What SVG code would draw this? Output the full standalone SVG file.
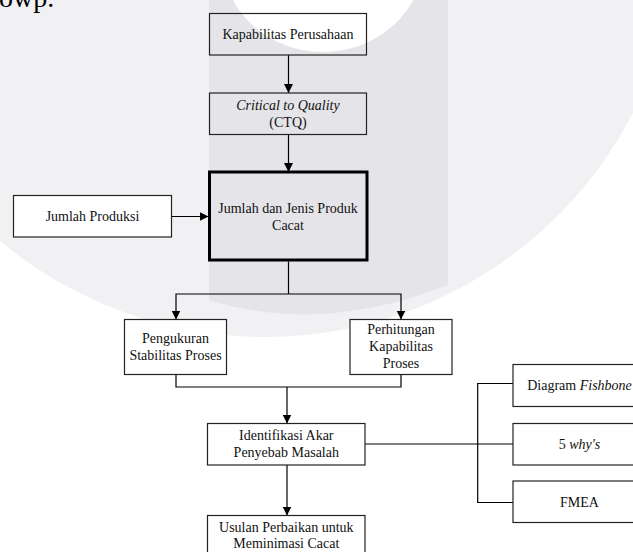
<svg xmlns="http://www.w3.org/2000/svg" width="633" height="552" viewBox="0 0 633 552">
  <defs>
    <marker id="arr" viewBox="0 0 10 10" refX="10" refY="5" markerWidth="9" markerHeight="11.5" markerUnits="userSpaceOnUse" orient="auto">
      <path d="M0,0 L10,5 L0,10 Z" fill="#000"/>
    </marker>
    <clipPath id="bigc"><circle cx="265" cy="-77" r="414"/></clipPath>
  </defs>
  <style>
    .bx { fill: none; stroke: #222; stroke-width: 1.2; }
    .wb { fill: #fff; stroke: #222; stroke-width: 1.2; }
    .thick { fill: none; stroke: #000; stroke-width: 3; }
    .t { font-family: "Liberation Serif", "Times New Roman", serif; font-size: 14px; fill: #111; text-anchor: middle; }
    .i { font-style: italic; }
    .c { fill: none; stroke: #000; stroke-width: 1.2; }
    .ca { fill: none; stroke: #000; stroke-width: 1.2; marker-end: url(#arr); }
  </style>

  <!-- background watermark -->
  <rect x="0" y="0" width="633" height="552" fill="#fff"/>
  <circle cx="265" cy="-77" r="414" fill="#f1f1f4"/>
  <path d="M209,0 V300 Q320,335 448,285 V0 Z" fill="#e5e5e9" clip-path="url(#bigc)"/>
  <ellipse cx="323" cy="-40" rx="100" ry="92" fill="#fff"/>
  <text x="-1" y="7" font-family="Liberation Serif, serif" font-size="28" fill="#000">owp.</text>

  <g id="connectors">
    <line class="ca" x1="288.5" y1="55" x2="288.5" y2="93"/>
    <line class="ca" x1="288.5" y1="134.5" x2="288.5" y2="172"/>
    <line class="ca" x1="171.5" y1="216.5" x2="208.5" y2="216.5"/>
    <polyline class="c" points="288.5,261.5 288.5,294"/>
    <polyline class="ca" points="288.5,294 176,294 176,319.5"/>
    <polyline class="ca" points="288.5,294 401,294 401,319.5"/>
    <polyline class="c" points="176,374.5 176,387 401,387 401,374.5"/>
    <line class="ca" x1="287" y1="387" x2="287" y2="423.5"/>
    <line class="ca" x1="287" y1="465" x2="287" y2="515.5"/>
    <line class="c" x1="365" y1="444" x2="513" y2="444"/>
    <polyline class="c" points="513,383.5 477.7,383.5 477.7,502.5 513,502.5"/>
  </g>

  <g id="kapabilitas">
    <rect class="bx" x="209.5" y="13.5" width="157" height="41.5"/>
    <text class="t" x="288" y="38.5">Kapabilitas Perusahaan</text>
  </g>
  <g id="ctq">
    <rect class="bx" x="209.5" y="93" width="157" height="41.5"/>
    <text class="t" x="288" y="110"><tspan class="i">Critical to Quality</tspan><tspan x="288" y="127">(CTQ)</tspan></text>
  </g>
  <g id="jumlah-jenis">
    <rect class="thick" x="209.5" y="172" width="157.5" height="88"/>
    <text class="t" x="288" y="213">Jumlah dan Jenis Produk<tspan x="288" y="230">Cacat</tspan></text>
  </g>
  <g id="jumlah-produksi">
    <rect class="wb" x="13.5" y="195.5" width="158" height="41.5"/>
    <text class="t" x="92.5" y="221">Jumlah Produksi</text>
  </g>
  <g id="pengukuran">
    <rect class="wb" x="124.5" y="319.5" width="102" height="55"/>
    <text class="t" x="175.5" y="343">Pengukuran<tspan x="175.5" y="360">Stabilitas Proses</tspan></text>
  </g>
  <g id="perhitungan">
    <rect class="wb" x="350" y="319.5" width="102" height="55"/>
    <text class="t" x="401" y="334">Perhitungan<tspan x="401" y="351">Kapabilitas</tspan><tspan x="401" y="368">Proses</tspan></text>
  </g>
  <g id="identifikasi">
    <rect class="wb" x="207.5" y="423.5" width="157.5" height="41.5"/>
    <text class="t" x="286.3" y="440">Identifikasi Akar<tspan x="286.3" y="456.7">Penyebab Masalah</tspan></text>
  </g>
  <g id="usulan">
    <rect class="wb" x="207.5" y="515.5" width="157.5" height="45"/>
    <text class="t" x="286.3" y="531.5">Usulan Perbaikan untuk<tspan x="286.3" y="548">Meminimasi Cacat</tspan></text>
  </g>
  <g id="fishbone">
    <rect class="wb" x="513" y="364.5" width="133" height="42"/>
    <text class="t" x="579.5" y="390">Diagram <tspan class="i">Fishbone</tspan></text>
  </g>
  <g id="five-whys">
    <rect class="wb" x="513" y="423.5" width="133" height="41.5"/>
    <text class="t" x="579.5" y="448.5">5 <tspan class="i">why's</tspan></text>
  </g>
  <g id="fmea">
    <rect class="wb" x="513" y="481" width="133" height="41.5"/>
    <text class="t" x="579.5" y="506.5">FMEA</text>
  </g>
</svg>
